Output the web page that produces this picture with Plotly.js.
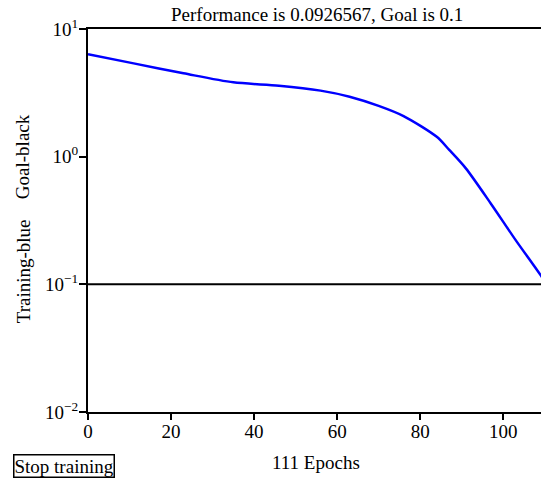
<!DOCTYPE html>
<html>
<head>
<meta charset="utf-8">
<script src="https://cdn.plot.ly/plotly-3.0.1.min.js"></script>
<style>html,body{margin:0;padding:0;background:#fff;}#chart{width:541px;height:481px;}</style>
</head>
<body>
<div id="chart"></div>
<script>
const epochs = [0, 11, 23, 35, 46, 56, 63, 70, 76, 84, 87, 91, 97, 103, 109, 111];
const trainingPerf = [6.34, 5.38, 4.50, 3.82, 3.60, 3.29, 2.95, 2.50, 2.08, 1.43, 1.13, 0.81, 0.43, 0.222, 0.118, 0.0926567];
const goal = 0.1;
const goalX = [0, 111];
const xTickVals = [0, 20, 40, 60, 80, 100];
const yTickVals = [0.01, 0.1, 1, 10];
const yTickText = ['10<sup>\u22122</sup>', '10<sup>\u22121</sup>', '10<sup>0</sup>', '10<sup>1</sup>'];
const titleText = 'Performance is 0.0926567, Goal is 0.1';
const xTitleText = '111 Epochs';

const font = {family: 'Liberation Serif', size: 19, color: '#000'};

const data = [
  {x: epochs, y: trainingPerf, type: 'scatter', mode: 'lines', line: {color: '#0000ff', width: 2.5, shape: 'spline', smoothing: 0.8}, hoverinfo: 'skip'},
  {x: goalX, y: [goal, goal], type: 'scatter', mode: 'lines', line: {color: '#000', width: 2}, hoverinfo: 'skip'}
];

const layout = {
  width: 541, height: 481,
  margin: {l: 88, r: 0, t: 29, b: 69},
  paper_bgcolor: '#fff', plot_bgcolor: '#fff',
  showlegend: false,
  font: font,
  xaxis: {
    range: [0, 109.1], tickvals: xTickVals, ticks: 'outside', ticklen: 6, tickwidth: 2, tickcolor: '#000',
    showline: true, linecolor: '#000', linewidth: 2, mirror: true, showgrid: false, zeroline: false,
    tickfont: font, ticklabelstandoff: -5
  },
  yaxis: {
    type: 'log', range: [-2, 1], tickvals: yTickVals, ticktext: yTickText, ticks: 'outside', ticklen: 7, tickwidth: 2, tickcolor: '#000',
    showline: true, linecolor: '#000', linewidth: 2, showgrid: false, zeroline: false,
    tickfont: font, ticklabelstandoff: -3
  },
  annotations: [
    {text: titleText, xref: 'paper', yref: 'paper', x: 0.5055, y: 1.0366, xanchor: 'center', yanchor: 'middle', showarrow: false, font: font},
    {text: xTitleText, xref: 'paper', yref: 'paper', x: 0.503, y: -0.131, xanchor: 'center', yanchor: 'middle', showarrow: false, font: font},
    {text: 'Goal-black', xref: 'paper', yref: 'paper', x: -0.143, y: 0.666, xanchor: 'center', yanchor: 'middle', textangle: -90, showarrow: false, font: font},
    {text: 'Training-blue', xref: 'paper', yref: 'paper', x: -0.143, y: 0.368, xanchor: 'center', yanchor: 'middle', textangle: -90, showarrow: false, font: font},
    {text: 'Stop training', xref: 'paper', yref: 'paper', x: -0.053, y: -0.141, xanchor: 'center', yanchor: 'middle', showarrow: false, font: font, bordercolor: '#000', borderwidth: 1.5, borderpad: 0, bgcolor: '#fff'}
  ]
};

Plotly.newPlot('chart', data, layout, {staticPlot: true, displayModeBar: false});
</script>
</body>
</html>
